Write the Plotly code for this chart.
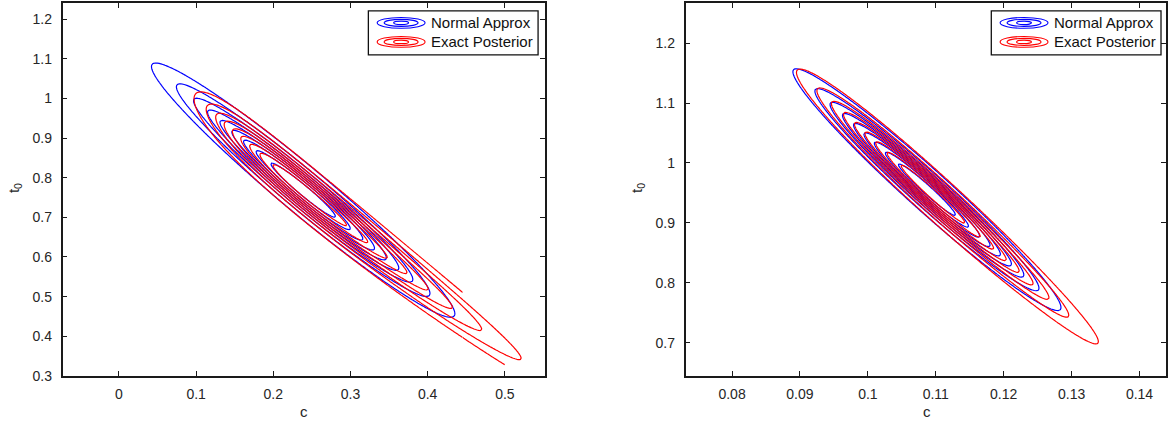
import numpy as np
import plotly.graph_objects as go

W, H = 1168, 428

# ---------------- values ----------------
levels = [0.1, 0.2, 0.3, 0.4, 0.5, 0.6, 0.7, 0.8, 0.9]   # fraction of peak density

# left panel
L_norm_mean = [0.2387, 0.7687]
L_norm_sd = [0.0916, 0.1496]
L_norm_rho = -0.972
L_exact_logc = [-1.416, 0.426]          # centre / sd of log(c)
L_exact_ridge = [0.2387, 0.7687, -1.587, 0.30]   # c_ref, t0 at c_ref, slope, curvature
L_exact_width = 0.0355
L_xrange = [-0.073, 0.5517]
L_yrange = [0.30, 1.24]
L_xticks = [0, 0.1, 0.2, 0.3, 0.4, 0.5]
L_xlabels = ["0", "0.1", "0.2", "0.3", "0.4", "0.5"]
L_yticks = [0.3, 0.4, 0.5, 0.6, 0.7, 0.8, 0.9, 1.0, 1.1, 1.2]
L_ylabels = ["0.3", "0.4", "0.5", "0.6", "0.7", "0.8", "0.9", "1", "1.1", "1.2"]

# right panel
R_norm_mean = [0.1087, 0.9555]
R_norm_sd = [0.0092, 0.094]
R_norm_rho = -0.975
R_exact_logc = [-2.212, 0.094]
R_exact_ridge = [0.1087, 0.957, -10.1, 0.0]
R_exact_width = 0.0212
R_xrange = [0.07315, 0.1439]
R_yrange = [0.645, 1.2661]
R_xticks = [0.08, 0.09, 0.10, 0.11, 0.12, 0.13, 0.14]
R_xlabels = ["0.08", "0.09", "0.1", "0.11", "0.12", "0.13", "0.14"]
R_yticks = [0.7, 0.8, 0.9, 1.0, 1.1, 1.2]
R_ylabels = ["0.7", "0.8", "0.9", "1", "1.1", "1.2"]

series_names = ["Normal Approx", "Exact Posterior"]
series_colors = ["#0000FF", "#FF0000"]


# ---------------- density fields ----------------
def normal_field(cs, ts, mean, sd, rho):
    C, T = np.meshgrid(cs, ts)
    zc = (C - mean[0]) / sd[0]
    zt = (T - mean[1]) / sd[1]
    q = (zc ** 2 - 2 * rho * zc * zt + zt ** 2) / (1 - rho ** 2)
    return np.exp(-0.5 * q)


def exact_field(cs, ts, logc, ridge, width):
    C, T = np.meshgrid(cs, ts)
    Cp = np.where(C > 1e-6, C, 1e-6)
    zu = (np.log(Cp) - logc[0]) / logc[1]
    rt = ridge[1] + ridge[2] * (C - ridge[0]) + ridge[3] * (C - ridge[0]) ** 2
    zv = (T - rt) / width
    return np.exp(-0.5 * (zu ** 2 + zv ** 2))


def contour(cs, ts, Z, color, lo, hi, xa, ya):
    return go.Contour(
        x=cs, y=ts, z=Z, autocontour=False,
        contours=dict(coloring="none", start=lo, end=hi, size=0.1),
        line=dict(color=color, width=1.2, smoothing=0),
        showscale=False, showlegend=False, hoverinfo="skip",
        xaxis=xa, yaxis=ya,
    )


fig = go.Figure()

# left panel
cs = np.linspace(-0.07, 0.55, 260)
ts = np.linspace(0.30, 1.24, 260)
fig.add_trace(contour(cs, ts, normal_field(cs, ts, L_norm_mean, L_norm_sd, L_norm_rho),
                      series_colors[0], levels[0], levels[-1], "x", "y"))
cs = np.linspace(0.02, 0.55, 260)
ts = np.linspace(0.30, 1.20, 260)
fig.add_trace(contour(cs, ts, exact_field(cs, ts, L_exact_logc, L_exact_ridge, L_exact_width),
                      series_colors[1], levels[1], levels[-1], "x", "y"))
# outermost exact level: evaluated on a truncated region (open contour)
cs = np.linspace(0.02, 0.4454, 220)
ts = np.linspace(0.30, 1.20, 220)
fig.add_trace(contour(cs, ts, exact_field(cs, ts, L_exact_logc, L_exact_ridge, L_exact_width),
                      series_colors[1], levels[0], levels[0], "x", "y"))
cs = np.linspace(0.4454, 0.50, 40)
ts = np.linspace(0.30, 0.405, 40)
fig.add_trace(contour(cs, ts, exact_field(cs, ts, L_exact_logc, L_exact_ridge, L_exact_width),
                      series_colors[1], levels[0], levels[0], "x", "y"))

# right panel
cs = np.linspace(R_xrange[0], R_xrange[1], 260)
ts = np.linspace(R_yrange[0], R_yrange[1], 260)
fig.add_trace(contour(cs, ts, normal_field(cs, ts, R_norm_mean, R_norm_sd, R_norm_rho),
                      series_colors[0], levels[0], levels[-1], "x2", "y2"))
fig.add_trace(contour(cs, ts, exact_field(cs, ts, R_exact_logc, R_exact_ridge, R_exact_width),
                      series_colors[1], levels[0], levels[-1], "x2", "y2"))


# ---------------- layout ----------------
def px(x):
    return x / W


def py(y):
    return 1 - y / H


FONT = "Liberation Sans, Arial, Helvetica, sans-serif"
TXT = "#262626"

axis_common = dict(
    showline=True, linecolor="#1a1a1a", linewidth=1.6, mirror="ticks",
    ticks="inside", ticklen=5, tickwidth=1, tickcolor="#1a1a1a",
    showgrid=False, zeroline=False, fixedrange=True,
    tickfont=dict(family=FONT, size=14, color=TXT),
)

L_box = [62.7, 545.7, 3.5, 383.0]    # left, right, top, bottom (px)
R_box = [686.7, 1168.0, 3.5, 383.0]

fig.update_layout(
    width=W, height=H, margin=dict(l=0, r=0, t=0, b=0),
    paper_bgcolor="white", plot_bgcolor="white",
    showlegend=False,
    xaxis=dict(domain=[px(L_box[0]), px(L_box[1])], range=L_xrange, anchor="y",
               tickvals=L_xticks, ticktext=L_xlabels, ticklabelstandoff=5, **axis_common),
    yaxis=dict(domain=[py(L_box[3]), py(L_box[2])], range=L_yrange, anchor="x",
               tickvals=L_yticks, ticktext=L_ylabels, ticklabelstandoff=6, **axis_common),
    xaxis2=dict(domain=[px(R_box[0]), 1.0], range=R_xrange, anchor="y2",
                tickvals=R_xticks, ticktext=R_xlabels, ticklabelstandoff=5, **axis_common),
    yaxis2=dict(domain=[py(R_box[3]), py(R_box[2])], range=R_yrange, anchor="x2",
                tickvals=R_yticks, ticktext=R_ylabels, ticklabelstandoff=6, **axis_common),
)

annotations = []
shapes = []
for box in (L_box, R_box):
    cx = (box[0] + (box[0] + 483.0)) / 2
    annotations.append(dict(text="c", x=px(cx), y=py(419), xref="paper", yref="paper",
                            xanchor="center", yanchor="middle",
                            showarrow=False, font=dict(family=FONT, size=15, color=TXT)))
    annotations.append(dict(text="t<sub>0</sub>", x=px(box[0] - 48), y=py(192), xref="paper",
                            yref="paper", xanchor="center", yanchor="middle",
                            showarrow=False, textangle=-90,
                            font=dict(family=FONT, size=15, color=TXT)))

# legends (MATLAB style boxes)
for lx0 in (369.0, 993.0):
    ly0, lw, lh = 11.0, 170.0, 45.0
    shapes.append(dict(type="rect", xref="paper", yref="paper", layer="above",
                       x0=px(lx0), x1=px(lx0 + lw), y0=py(ly0 + lh), y1=py(ly0),
                       line=dict(color="#111111", width=1.3), fillcolor="white"))
    for i, (name, col) in enumerate(zip(series_names, series_colors)):
        cyy = ly0 + 12.3 + i * 19.4
        cxx = lx0 + 32.8
        for ew, eh in ((24, 5.5), (17, 3.6), (7.5, 1.8)):
            shapes.append(dict(type="circle", xref="paper", yref="paper", layer="above",
                               x0=px(cxx - ew), x1=px(cxx + ew), y0=py(cyy + eh), y1=py(cyy - eh),
                               line=dict(color=col, width=1.1)))
        annotations.append(dict(text=name, x=px(lx0 + 61), y=py(cyy), xref="paper", yref="paper",
                                xanchor="left", yanchor="middle", showarrow=False,
                                font=dict(family=FONT, size=15, color="#111111")))

fig.update_layout(annotations=annotations, shapes=shapes)
fig.write_html("out.html")
